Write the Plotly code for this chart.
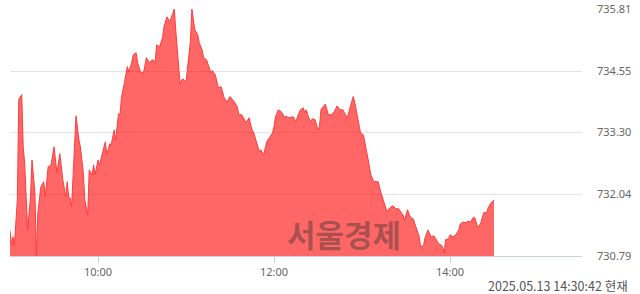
import plotly.graph_objects as go

times = ["09:00","09:01","09:02","09:03","09:05","09:06","09:08","09:09","09:10","09:12",
         "09:14","09:15","09:17","09:18","09:19","09:21","09:23","09:24","09:26","09:28",
         "09:30","09:32","09:34","09:36","09:38","09:39","09:40","09:41","09:42","09:44",
         "09:45","09:47","09:48","09:50","09:51","09:53","09:54","09:56","09:57","09:58",
         "10:00","10:01","10:03","10:05","10:06","10:08","10:09","10:11","10:12","10:13",
         "10:14","10:15","10:16","10:18","10:20","10:21","10:23","10:24","10:26","10:27",
         "10:29","10:31","10:33","10:35","10:37","10:39","10:40","10:42","10:44","10:45",
         "10:47","10:49","10:50","10:52","10:53","10:56","10:57","10:58","11:00","11:02",
         "11:03","11:04","11:06","11:08","11:09","11:11","11:12","11:14","11:16","11:17",
         "11:18","11:20","11:22","11:24","11:26","11:28","11:30","11:33","11:35","11:36",
         "11:38","11:41","11:43","11:45","11:46","11:48","11:50","11:51","11:53","11:55",
         "11:57","11:59","12:00","12:01","12:03","12:05","12:07","12:09","12:10","12:13",
         "12:15","12:16","12:18","12:20","12:21","12:22","12:23","12:25","12:26","12:28",
         "12:30","12:31","12:32","12:34","12:35","12:37","12:39","12:41","12:43","12:45",
         "12:47","12:48","12:50","12:52","12:54","12:55","12:57","12:59","13:01","13:02",
         "13:04","13:06","13:08","13:10","13:11","13:13","13:15","13:17","13:19","13:21",
         "13:23","13:25","13:28","13:29","13:31","13:33","13:35","13:37","13:39","13:40",
         "13:42","13:43","13:45","13:47","13:49","13:51","13:52","13:54","13:55","13:56",
         "13:57","13:59","14:00","14:02","14:04","14:06","14:07","14:09","14:11","14:12",
         "14:14","14:16","14:17","14:19","14:21","14:23","14:25","14:26","14:28","14:30"]

prices = [731.30,731.01,731.18,731.01,731.93,733.97,734.07,733.01,732.68,731.32,
          731.99,732.74,732.07,730.79,731.67,732.19,732.30,731.99,732.60,732.64,
          733.01,732.48,732.87,732.34,731.99,732.30,731.99,731.97,731.79,733.15,
          733.64,733.15,733.01,732.48,731.93,731.62,732.54,732.44,732.64,732.44,
          732.74,732.64,732.91,733.11,732.85,733.07,733.05,733.35,733.15,733.50,
          733.68,733.66,734.01,734.31,734.64,734.53,734.72,734.88,734.92,734.72,
          734.53,734.51,734.82,734.72,734.78,734.74,735.08,735.04,735.23,735.45,
          735.65,735.55,735.63,735.81,735.39,734.27,734.37,734.39,734.33,734.84,
          735.15,735.81,735.39,735.29,735.12,734.98,734.82,734.78,734.62,734.51,
          734.56,734.47,734.21,734.23,734.01,733.92,734.03,733.92,733.82,733.66,
          733.66,733.50,733.60,733.35,733.31,733.09,732.91,732.95,732.85,733.11,
          733.21,733.29,733.42,733.62,733.76,733.72,733.62,733.62,733.60,733.62,
          733.52,733.62,733.76,733.80,733.70,733.76,733.66,733.50,733.58,733.56,
          733.35,733.42,733.76,733.84,733.88,733.66,733.66,733.72,733.84,733.76,
          733.76,733.70,733.60,733.82,734.03,733.92,733.62,733.29,733.25,733.11,
          732.78,732.44,732.30,732.30,732.30,732.07,731.87,731.69,731.77,731.81,
          731.75,731.75,731.62,731.52,731.73,731.58,731.54,731.36,731.18,730.97,
          731.01,731.16,731.32,731.18,731.20,731.10,731.05,731.01,730.97,730.85,
          731.12,731.14,731.22,731.18,731.22,731.32,731.44,731.48,731.46,731.50,
          731.48,731.58,731.56,731.36,731.46,731.67,731.67,731.77,731.87,731.93]

y_ticks = [730.79, 732.04, 733.30, 734.55, 735.81]
y_tick_labels = ["730.79", "732.04", "733.30", "734.55", "735.81"]
x_ticks = ["10:00", "12:00", "14:00"]
date = "2025-05-13"
stamp = "2025.05.13 14:30:42 현재"
watermark = "서울경제"

xs = [f"{date} {t}" for t in times]

fig = go.Figure()
fig.add_trace(go.Scatter(
    x=xs, y=prices, mode="lines",
    line=dict(color="#ff3c3c", width=1),
    fill="tozeroy", fillcolor="rgba(255,0,0,0.6)",
    hoverinfo="skip", showlegend=False,
))

fig.update_layout(
    width=640, height=294,
    margin=dict(l=10, r=58, t=9, b=38, autoexpand=False),
    paper_bgcolor="white", plot_bgcolor="white",
    font=dict(family="Noto Sans", size=11, color="#666666"),
    xaxis=dict(
        type="date", automargin=False,
        range=[f"{date} 09:00", f"{date} 15:30"],
        tickvals=[f"{date} {t}" for t in x_ticks],
        ticktext=x_ticks,
        showgrid=False, zeroline=False,
        showline=True, linecolor="#c8d2e4", linewidth=1,
        ticks="outside", ticklen=6, tickcolor="#c8d2e4",
        tickfont=dict(family="Noto Sans", size=11, color="#666666"),
    ),
    yaxis=dict(
        side="right", automargin=False,
        range=[730.79, 735.81],
        tickvals=y_ticks, ticktext=y_tick_labels,
        showgrid=True, gridcolor="#e3e3e3", gridwidth=1,
        zeroline=False, showline=False, ticks="",
        ticklabelstandoff=14,
        tickfont=dict(family="Noto Sans", size=11, color="#666666"),
    ),
    annotations=[
        dict(text=watermark, xref="paper", yref="paper",
             x=0.584, y=0.093, xanchor="center", yanchor="middle",
             showarrow=False,
             font=dict(family="Noto Sans CJK KR", size=31, color="rgba(48,48,48,0.41)", weight="bold")),
        dict(text=stamp, xref="paper", yref="paper",
             x=1.084, y=-0.1176, xanchor="right", yanchor="middle",
             showarrow=False,
             font=dict(family="Noto Sans CJK KR", size=12.5, color="#555555")),
    ],
)

fig.write_html("out.html")
